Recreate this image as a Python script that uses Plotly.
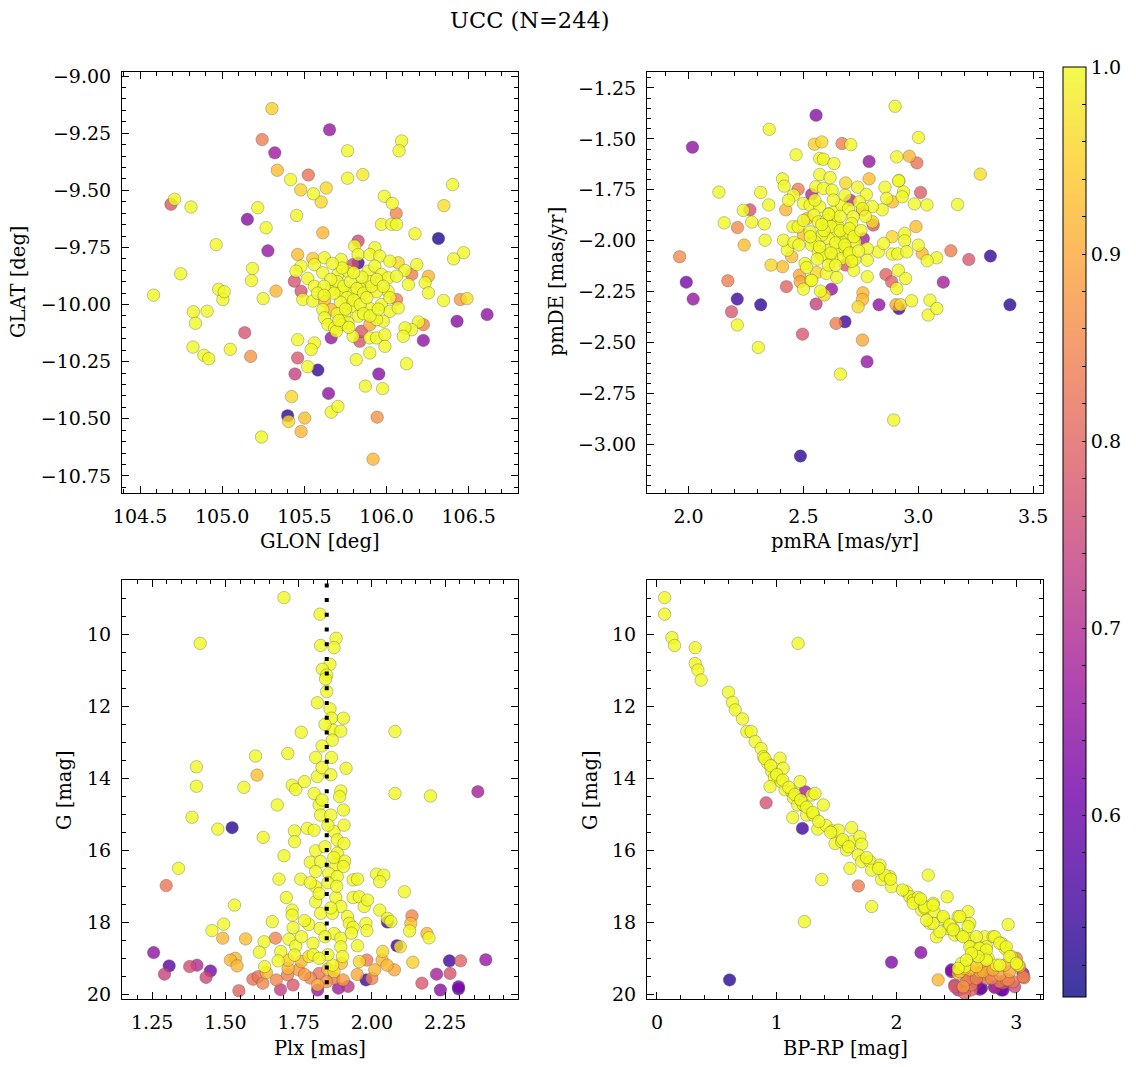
import plotly.graph_objects as go
import plotly.colors as pc

TITLE = "UCC (N=244)"
PROB_MIN, PROB_MAX = 0.503, 1.0
PLX_LINE = 1.846

# (GLON, GLAT, probability)
SKY = [
    (105.302, -9.142, 0.95), (105.653, -9.235, 0.66), (105.243, -9.278, 0.84), (105.320, -9.336, 0.67),
    (106.092, -9.284, 1.0), (106.076, -9.327, 1.0), (105.763, -9.327, 1.0), (105.335, -9.412, 0.93),
    (105.524, -9.433, 0.82), (105.416, -9.453, 1.0), (105.763, -9.447, 1.0), (105.855, -9.431, 0.98),
    (105.478, -9.498, 0.95), (105.555, -9.515, 1.0), (105.633, -9.490, 0.96), (105.602, -9.551, 0.96),
    (106.402, -9.475, 1.0), (104.688, -9.561, 0.78), (104.710, -9.539, 1.0), (104.810, -9.573, 1.0),
    (105.216, -9.576, 1.0), (105.153, -9.627, 0.64), (105.453, -9.610, 1.0), (105.267, -9.664, 1.0),
    (105.986, -9.526, 1.0), (106.035, -9.557, 1.0), (106.059, -9.601, 0.85), (106.349, -9.567, 0.97),
    (104.963, -9.738, 1.0), (105.278, -9.765, 0.66), (106.469, -9.773, 1.0), (104.747, -9.865, 1.0),
    (104.582, -9.959, 1.0), (105.184, -9.842, 1.0), (105.178, -9.895, 1.0), (104.978, -9.933, 1.0),
    (105.004, -9.978, 1.0), (105.012, -9.944, 1.0), (105.249, -9.974, 1.0), (105.327, -9.941, 0.92),
    (104.824, -10.032, 1.0), (104.908, -10.029, 1.0), (104.837, -10.082, 1.0), (105.137, -10.123, 0.77),
    (104.822, -10.186, 1.0), (104.888, -10.222, 1.0), (104.918, -10.237, 1.0), (105.049, -10.196, 1.0),
    (105.173, -10.227, 0.87), (105.443, -10.304, 0.74), (105.520, -10.272, 1.0), (105.582, -10.287, 0.54),
    (105.953, -10.304, 0.64), (106.122, -10.259, 1.0), (106.612, -10.044, 0.65), (106.490, -9.974, 0.97),
    (105.647, -10.389, 0.65), (105.871, -10.357, 1.0), (105.976, -10.368, 1.0), (105.422, -10.403, 0.96),
    (105.398, -10.487, 0.53), (105.404, -10.512, 0.96), (105.502, -10.497, 0.93), (105.480, -10.556, 0.92),
    (105.663, -10.471, 1.0), (105.704, -10.446, 1.0), (105.943, -10.493, 0.87), (105.239, -10.580, 1.0),
    (105.918, -10.677, 0.92),
    (105.612, -9.686, 0.92), (105.827, -9.722, 0.76), (105.806, -9.744, 1.0), (105.929, -9.751, 1.0),
    (105.969, -9.649, 1.0), (106.031, -9.649, 1.0), (106.061, -9.649, 1.0), (106.173, -9.690, 1.0),
    (106.316, -9.711, 0.52), (106.408, -9.800, 1.0), (105.459, -9.781, 0.93), (105.551, -9.798, 0.94),
    (105.622, -9.795, 1.0), (105.724, -9.803, 1.0), (105.827, -9.781, 1.0), (105.898, -9.781, 1.0),
    (105.959, -9.788, 1.0), (106.020, -9.810, 1.0), (106.071, -9.817, 0.96), (106.184, -9.825, 1.0),
    (106.255, -9.876, 0.92), (106.153, -9.868, 0.84), (106.112, -9.851, 1.0), (105.480, -9.832, 1.0),
    (105.449, -9.854, 1.0), (105.439, -9.898, 0.77), (105.520, -9.886, 1.0), (105.561, -9.825, 1.0),
    (105.612, -9.861, 1.0), (105.704, -9.868, 1.0), (105.765, -9.854, 1.0), (105.796, -9.825, 0.76),
    (105.827, -9.818, 0.55), (105.888, -9.854, 1.0), (105.929, -9.832, 1.0), (105.969, -9.868, 1.0),
    (106.010, -9.883, 1.0), (106.061, -9.876, 1.0), (106.133, -9.912, 1.0), (106.235, -9.905, 1.0),
    (106.255, -9.949, 1.0), (106.347, -9.982, 1.0), (106.449, -9.978, 0.88), (106.429, -10.073, 0.64),
    (106.224, -10.088, 0.85), (106.194, -10.076, 1.0), (106.153, -10.110, 1.0), (106.112, -10.102, 1.0),
    (106.102, -10.139, 1.0), (106.224, -10.157, 0.65), (106.061, -9.978, 0.84), (106.010, -9.942, 1.0),
    (105.561, -9.920, 1.0), (105.480, -9.942, 0.77), (105.490, -9.978, 1.0), (105.551, -9.985, 1.0),
    (105.622, -9.985, 0.92), (105.663, -10.022, 0.92), (105.612, -10.022, 1.0), (105.622, -10.058, 1.0),
    (105.643, -10.088, 1.0), (105.684, -10.102, 1.0), (105.663, -9.937, 1.0), (105.724, -9.944, 1.0),
    (105.796, -9.944, 1.0), (105.847, -9.922, 1.0), (105.898, -9.900, 1.0), (105.939, -9.944, 1.0),
    (105.898, -10.017, 1.0), (105.969, -10.000, 1.0), (106.020, -10.030, 1.0), (106.071, -10.015, 1.0),
    (105.980, -10.073, 1.0), (105.939, -10.066, 1.0), (105.898, -10.088, 0.90), (105.847, -10.117, 0.78),
    (105.837, -10.161, 0.77), (105.796, -10.139, 1.0), (105.745, -10.044, 1.0), (105.796, -10.008, 1.0),
    (105.827, -10.051, 1.0), (105.765, -10.080, 1.0), (105.724, -10.088, 1.0), (105.694, -10.117, 1.0),
    (105.459, -10.154, 1.0), (105.561, -10.168, 1.0), (105.541, -10.197, 1.0), (105.663, -10.146, 0.66),
    (105.898, -10.146, 1.0), (105.939, -10.146, 1.0), (105.990, -10.132, 1.0), (105.990, -10.183, 1.0),
    (105.816, -10.241, 1.0), (105.898, -10.212, 1.0), (105.459, -10.234, 0.78),
    (105.700, -9.900, 1.0), (105.740, -9.920, 1.0), (105.780, -9.900, 1.0), (105.820, -9.930, 1.0),
    (105.860, -9.950, 1.0), (105.760, -9.970, 1.0), (105.720, -9.990, 1.0), (105.800, -9.980, 1.0),
    (105.840, -10.000, 1.0), (105.880, -9.970, 1.0), (105.680, -9.950, 1.0), (105.660, -9.890, 1.0),
    (105.700, -10.040, 1.0), (105.750, -10.020, 1.0), (105.860, -10.040, 1.0), (105.910, -9.920, 1.0),
    (105.940, -9.890, 1.0), (105.620, -9.920, 1.0), (105.580, -9.950, 1.0), (105.850, -9.880, 1.0),
    (105.800, -9.860, 1.0), (105.730, -9.840, 1.0), (105.670, -9.820, 1.0), (105.900, -10.050, 1.0),
    (105.770, -10.100, 1.0), (105.710, -10.070, 1.0), (105.620, -9.960, 1.0), (105.980, -9.920, 1.0),
    (106.020, -9.970, 1.0), (105.950, -10.020, 1.0),
]

# (pmRA, pmDE, probability)
PM = [
    (2.555, -1.384, 0.64), (2.899, -1.340, 1.0), (2.017, -1.541, 0.65), (2.351, -1.453, 1.0),
    (2.548, -1.526, 0.95), (2.580, -1.515, 0.96), (2.668, -1.523, 0.84), (2.706, -1.528, 1.0),
    (2.468, -1.578, 1.0), (2.786, -1.611, 0.66), (2.906, -1.588, 1.0), (2.961, -1.585, 0.92),
    (2.994, -1.618, 0.82), (3.001, -1.493, 1.0), (3.270, -1.673, 0.97), (2.571, -1.596, 1.0),
    (2.587, -1.600, 1.0), (2.633, -1.621, 1.0), (2.571, -1.675, 1.0), (2.616, -1.690, 1.0),
    (2.786, -1.696, 0.93), (2.916, -1.704, 1.0), (2.132, -1.761, 1.0), (2.314, -1.763, 1.0),
    (2.409, -1.696, 1.0), (2.416, -1.732, 1.0), (2.477, -1.747, 0.84), (2.349, -1.824, 1.0),
    (2.238, -1.851, 1.0), (2.267, -1.848, 0.77), (2.155, -1.912, 1.0), (2.213, -1.935, 0.86),
    (2.275, -1.908, 1.0), (2.330, -1.917, 1.0), (2.333, -1.997, 1.0), (2.242, -2.021, 0.93),
    (1.961, -2.078, 0.86), (1.990, -2.203, 0.62), (2.020, -2.286, 0.66), (2.171, -2.196, 0.84),
    (2.212, -2.286, 0.55), (2.187, -2.348, 0.78), (2.212, -2.413, 1.0), (2.314, -2.314, 0.54),
    (2.304, -2.523, 1.0), (2.359, -2.119, 0.96), (2.409, -2.127, 0.93), (2.426, -2.225, 0.80),
    (2.496, -2.458, 0.78), (2.487, -3.056, 0.53), (2.555, -2.310, 0.74), (2.622, -2.237, 0.66),
    (2.642, -2.405, 0.84), (2.681, -2.397, 0.55), (2.591, -2.266, 0.96), (2.574, -2.247, 1.0),
    (2.661, -2.654, 1.0), (2.757, -2.487, 0.90), (2.777, -2.593, 0.66), (2.738, -2.324, 0.96),
    (2.759, -2.255, 0.92), (2.757, -2.288, 0.92), (2.829, -2.314, 0.65), (2.916, -2.332, 0.55),
    (2.903, -2.314, 0.90), (2.923, -2.314, 0.96), (2.971, -2.294, 1.0), (2.893, -2.879, 1.0),
    (2.859, -2.165, 0.80), (2.884, -2.201, 0.80), (2.906, -2.234, 1.0), (2.913, -2.144, 1.0),
    (2.945, -2.185, 1.0), (3.051, -2.291, 1.0), (3.043, -2.364, 1.0), (3.081, -2.332, 1.0),
    (3.109, -2.203, 0.68), (3.142, -2.049, 0.84), (3.220, -2.092, 0.78), (3.314, -2.075, 0.54),
    (3.399, -2.314, 0.53), (3.080, -2.083, 1.0), (3.039, -2.098, 1.0), (3.017, -2.062, 0.92),
    (3.000, -2.021, 1.0), (3.010, -1.763, 0.79), (3.038, -1.824, 1.0), (3.171, -1.822, 1.0),
    (2.983, -1.819, 1.0), (2.990, -1.930, 0.93), (2.936, -1.760, 1.0), (2.930, -1.784, 1.0),
    (2.914, -1.706, 1.0), (2.855, -1.737, 1.0), (2.862, -1.792, 1.0), (2.888, -1.809, 0.93),
    (2.843, -1.848, 1.0), (2.800, -1.832, 1.0), (2.757, -1.850, 0.80), (2.801, -1.907, 0.96),
    (2.804, -1.923, 0.78), (2.684, -1.716, 0.96), (2.736, -1.737, 1.0), (2.774, -1.773, 1.0),
    (2.941, -1.964, 1.0), (2.941, -2.000, 1.0), (2.886, -1.980, 0.96), (2.887, -2.065, 1.0),
    (2.910, -2.064, 1.0), (2.950, -2.054, 1.0), (2.826, -2.054, 1.0), (2.849, -2.013, 1.0),
    (2.778, -2.038, 1.0), (2.778, -2.095, 1.0), (2.778, -2.176, 1.0), (2.723, -2.092, 1.0),
    (2.719, -2.145, 1.0), (2.683, -2.119, 0.78), (2.600, -2.160, 1.0), (2.645, -2.180, 1.0),
    (2.532, -2.196, 1.0), (2.483, -2.168, 0.90), (2.486, -2.201, 0.90), (2.500, -2.237, 1.0),
    (2.536, -2.194, 1.0), (2.557, -2.155, 0.96), (2.507, -2.111, 1.0), (2.514, -2.131, 1.0),
    (2.449, -2.078, 0.93), (2.430, -2.046, 1.0), (2.413, -1.997, 1.0), (2.459, -2.008, 1.0),
    (2.454, -1.931, 1.0), (2.477, -1.931, 1.0), (2.423, -1.848, 0.92), (2.457, -1.776, 1.0),
    (2.435, -1.801, 1.0), (2.500, -1.817, 1.0), (2.536, -1.773, 0.70), (2.554, -1.735, 1.0),
    (2.587, -1.743, 1.0), (2.625, -1.752, 1.0), (2.529, -1.825, 1.0), (2.571, -1.833, 1.0),
    (2.546, -1.874, 1.0), (2.517, -1.890, 0.93), (2.565, -1.907, 1.0), (2.613, -1.866, 1.0),
    (2.633, -1.858, 1.0), (2.667, -1.825, 1.0), (2.681, -1.776, 1.0), (2.704, -1.801, 0.70),
    (2.696, -1.842, 1.0), (2.717, -1.882, 1.0), (2.743, -1.809, 1.0), (2.757, -1.842, 1.0),
    (2.639, -1.907, 1.0), (2.652, -1.931, 1.0), (2.681, -1.956, 1.0), (2.710, -1.915, 1.0),
    (2.725, -2.005, 1.0), (2.761, -1.989, 0.68), (2.696, -1.980, 1.0), (2.667, -2.005, 1.0),
    (2.638, -1.972, 1.0), (2.609, -1.989, 1.0), (2.580, -1.972, 1.0), (2.551, -2.005, 1.0),
    (2.536, -2.021, 1.0), (2.565, -2.054, 1.0), (2.609, -2.046, 1.0), (2.645, -2.046, 1.0),
    (2.681, -2.038, 1.0), (2.696, -2.070, 1.0), (2.667, -2.087, 1.0), (2.623, -2.087, 1.0),
    (2.580, -2.070, 1.0), (2.609, -2.119, 1.0), (2.529, -1.956, 1.0), (2.500, -1.972, 0.93),
    (2.600, -1.900, 1.0),
    (2.620, -1.930, 1.0), (2.660, -1.950, 1.0), (2.700, -1.940, 1.0), (2.640, -2.010, 1.0),
    (2.680, -2.020, 1.0), (2.720, -1.980, 1.0), (2.590, -1.950, 1.0), (2.570, -2.030, 1.0),
    (2.620, -2.060, 1.0), (2.700, -2.060, 1.0), (2.740, -2.050, 1.0), (2.660, -1.880, 1.0),
    (2.610, -1.870, 1.0), (2.580, -1.920, 1.0), (2.530, -1.980, 1.0), (2.560, -2.090, 1.0),
    (2.640, -2.120, 1.0), (2.710, -2.100, 1.0), (2.750, -1.950, 1.0), (2.480, -2.020, 1.0),
    (2.500, -1.900, 1.0), (2.770, -1.880, 1.0), (2.630, -1.800, 1.0), (2.550, -1.800, 1.0),
]

# (Plx, G, probability)
PLX_G = [
    (1.700, 8.98, 1.0), (1.823, 9.44, 1.0), (1.414, 10.25, 1.0), (1.878, 10.11, 1.0),
    (1.871, 10.37, 1.0), (1.825, 10.31, 1.0), (1.857, 10.83, 1.0), (1.831, 10.97, 1.0),
    (1.846, 11.13, 1.0), (1.842, 11.24, 1.0), (1.846, 11.59, 1.0), (1.814, 11.90, 1.0),
    (1.857, 12.07, 1.0), (1.862, 12.33, 1.0), (1.903, 12.33, 1.0), (1.867, 12.66, 1.0),
    (1.894, 12.69, 1.0), (1.759, 12.72, 1.0), (2.079, 12.70, 1.0), (1.865, 12.94, 1.0),
    (1.830, 13.10, 1.0), (1.713, 13.31, 1.0), (1.603, 13.38, 1.0), (1.808, 13.42, 1.0),
    (1.862, 13.42, 1.0), (1.912, 13.72, 1.0), (1.401, 13.68, 1.0), (1.814, 13.95, 1.0),
    (1.608, 13.91, 0.93), (1.401, 14.22, 1.0), (1.563, 14.25, 1.0), (1.728, 14.19, 1.0),
    (1.740, 14.31, 1.0), (1.770, 14.09, 1.0), (1.803, 14.42, 1.0), (1.894, 14.35, 1.0),
    (1.890, 14.51, 1.0), (2.079, 14.42, 1.0), (2.200, 14.49, 1.0), (2.362, 14.37, 0.68),
    (1.677, 14.74, 1.0), (1.820, 14.74, 1.0), (1.825, 15.02, 1.0), (1.860, 15.02, 1.0),
    (1.903, 14.88, 1.0), (1.386, 15.08, 1.0), (1.474, 15.41, 1.0), (1.523, 15.37, 0.53),
    (1.629, 15.64, 1.0), (1.736, 15.46, 1.0), (1.736, 15.76, 1.0), (1.780, 15.39, 1.0),
    (1.803, 15.44, 1.0), (1.871, 15.48, 1.0), (1.905, 15.30, 1.0), (1.882, 15.71, 1.0),
    (1.905, 15.81, 1.0), (1.808, 16.01, 1.0), (1.882, 16.08, 1.0), (1.700, 16.15, 1.0),
    (1.790, 16.33, 1.0), (1.825, 16.31, 1.0), (1.877, 16.41, 1.0), (1.907, 16.30, 1.0),
    (1.903, 16.45, 1.0), (1.340, 16.50, 1.0), (1.808, 16.59, 1.0), (1.853, 16.64, 1.0),
    (1.882, 16.73, 1.0), (1.683, 16.80, 1.0), (1.757, 16.80, 1.0), (1.808, 17.01, 1.0),
    (1.936, 16.82, 1.0), (1.951, 16.80, 1.0), (2.016, 16.66, 1.0), (2.041, 16.69, 1.0),
    (2.027, 16.87, 1.0), (2.111, 17.15, 1.0), (1.298, 16.98, 0.83), (1.708, 17.31, 1.0),
    (1.877, 17.31, 1.0), (1.894, 17.56, 1.0), (1.936, 17.31, 1.0), (1.957, 17.29, 1.0),
    (1.974, 17.56, 1.0), (1.985, 17.38, 1.0), (2.027, 17.66, 1.0), (1.808, 17.43, 1.0),
    (1.531, 17.52, 1.0), (1.728, 17.66, 1.0), (1.728, 17.80, 1.0), (1.825, 17.75, 1.0),
    (1.865, 17.75, 1.0), (1.917, 17.84, 1.0), (1.923, 18.03, 1.0), (1.936, 18.14, 1.0),
    (1.980, 18.03, 1.0), (1.983, 18.23, 1.0), (2.053, 17.89, 1.0), (2.065, 17.98, 1.0),
    (2.053, 17.99, 0.55), (2.137, 17.82, 0.85), (2.133, 18.03, 0.93), (2.129, 18.24, 1.0),
    (2.188, 18.31, 0.92), (2.195, 18.43, 1.0), (1.454, 18.23, 1.0), (1.494, 18.05, 1.0),
    (1.491, 18.44, 0.92), (1.660, 17.98, 1.0), (1.731, 18.15, 1.0), (1.785, 18.06, 1.0),
    (1.823, 18.17, 1.0), (1.871, 18.31, 1.0), (1.894, 18.44, 1.0), (1.799, 18.58, 1.0),
    (1.894, 18.68, 1.0), (1.951, 18.65, 1.0), (1.717, 18.47, 1.0), (1.740, 18.66, 1.0),
    (1.671, 18.44, 0.85), (1.632, 18.54, 1.0), (1.569, 18.46, 0.93), (1.616, 18.83, 1.0),
    (1.689, 18.81, 1.0), (1.714, 19.05, 0.95), (1.736, 18.91, 1.0), (1.759, 19.09, 0.92),
    (1.785, 18.95, 0.97), (1.714, 19.28, 0.92), (1.680, 19.07, 1.0), (1.634, 19.23, 1.0),
    (1.534, 19.00, 0.92), (1.517, 19.05, 0.92), (1.540, 19.21, 0.92), (1.255, 18.84, 0.65),
    (1.308, 19.21, 0.58), (1.292, 19.44, 0.74), (1.378, 19.23, 0.76), (1.403, 19.19, 0.70),
    (1.449, 19.35, 0.62), (1.434, 19.53, 0.75), (1.546, 19.90, 0.80), (1.594, 19.58, 0.82),
    (1.612, 19.51, 0.82), (1.628, 19.69, 0.85), (1.674, 19.60, 0.85), (1.688, 19.87, 0.73),
    (1.731, 19.74, 0.78), (1.712, 19.46, 0.84), (1.750, 19.32, 0.88), (1.820, 19.42, 0.82),
    (1.815, 19.74, 0.90), (1.815, 19.88, 0.66), (1.845, 19.65, 0.87), (1.866, 19.19, 1.0),
    (1.871, 19.37, 0.96), (1.896, 19.14, 0.93), (1.886, 19.83, 0.67), (1.919, 19.78, 0.72),
    (1.902, 19.60, 0.88), (1.871, 19.56, 0.84), (1.983, 19.05, 0.84), (1.957, 19.09, 0.96),
    (1.980, 19.60, 0.55), (2.000, 19.56, 0.85), (2.010, 19.32, 0.92), (2.035, 19.05, 0.92),
    (2.037, 18.81, 0.96), (2.052, 19.19, 0.92), (2.077, 19.32, 0.90), (2.086, 18.65, 0.55),
    (2.097, 18.68, 0.97), (2.140, 19.11, 0.95), (2.171, 19.69, 0.78), (2.221, 19.44, 0.68),
    (2.234, 19.88, 0.64), (2.265, 19.07, 0.55), (2.267, 19.42, 0.77), (2.303, 19.07, 0.80),
    (2.296, 19.79, 0.62), (2.296, 19.85, 0.60), (2.389, 19.04, 0.66),
    (1.840, 12.50, 1.0), (1.830, 13.70, 1.0), (1.860, 13.90, 1.0), (1.830, 14.60, 1.0),
    (1.850, 15.30, 1.0), (1.840, 15.90, 1.0), (1.870, 16.20, 1.0), (1.850, 16.90, 1.0),
    (1.820, 17.20, 1.0), (1.860, 17.60, 1.0), (1.840, 18.40, 1.0), (1.800, 18.90, 1.0),
    (1.850, 18.90, 1.0), (1.880, 17.00, 1.0), (1.790, 16.90, 1.0), (1.770, 17.95, 1.0),
    (1.930, 18.30, 1.0), (1.760, 18.40, 1.0), (1.820, 19.00, 1.0), (1.900, 18.95, 1.0),
    (1.640, 19.40, 0.92), (1.790, 19.55, 0.85), (1.950, 19.45, 0.90), (1.770, 19.45, 0.88),
    (1.850, 19.30, 0.93),
]

# (BP-RP, G, probability)
CMD = [
    (0.064, 8.98, 1.0), (0.064, 9.44, 1.0), (0.125, 10.09, 1.0), (0.147, 10.31, 1.0),
    (0.319, 10.37, 1.0), (0.319, 10.81, 1.0), (0.342, 10.99, 1.0), (0.369, 11.27, 1.0),
    (1.178, 10.25, 1.0), (0.597, 11.61, 1.0), (0.631, 11.89, 1.0), (0.653, 12.10, 1.0),
    (0.714, 12.35, 1.0), (0.750, 12.70, 1.0), (0.786, 12.70, 1.0), (0.819, 12.98, 1.0),
    (0.869, 13.17, 1.0), (0.889, 13.40, 1.0), (0.925, 13.58, 1.0), (0.958, 13.81, 1.0),
    (0.981, 13.98, 1.0), (0.944, 14.23, 1.0), (1.028, 13.44, 1.0), (1.053, 13.72, 1.0),
    (1.036, 14.09, 1.0), (1.069, 14.32, 1.0), (1.125, 14.37, 1.0), (1.194, 14.09, 1.0),
    (1.236, 14.37, 0.68), (1.139, 14.54, 1.0), (1.175, 14.74, 1.0), (1.222, 14.74, 1.0),
    (1.292, 14.46, 1.0), (1.319, 14.42, 1.0), (1.389, 14.74, 1.0), (1.250, 15.02, 1.0),
    (1.306, 15.02, 1.0), (1.133, 15.09, 1.0), (0.911, 14.68, 0.77), (1.214, 15.39, 0.55),
    (1.342, 15.41, 1.0), (1.411, 15.31, 1.0), (1.467, 15.46, 1.0), (1.514, 15.44, 1.0),
    (1.486, 15.81, 1.0), (1.542, 15.76, 1.0), (1.583, 15.99, 1.0), (1.625, 15.37, 1.0),
    (1.625, 15.76, 1.0), (1.694, 15.62, 1.0), (1.708, 15.83, 1.0), (1.611, 16.50, 1.0),
    (1.681, 16.13, 1.0), (1.708, 16.31, 1.0), (1.778, 16.31, 1.0), (1.792, 16.55, 1.0),
    (1.861, 16.41, 1.0), (1.875, 16.81, 1.0), (1.944, 16.73, 1.0), (1.958, 17.01, 1.0),
    (1.903, 16.69, 1.0), (1.375, 16.81, 1.0), (1.681, 16.99, 0.84), (1.792, 17.56, 1.0),
    (1.231, 17.98, 1.0), (2.264, 16.69, 1.0), (2.083, 17.15, 1.0), (2.111, 17.29, 1.0),
    (2.139, 17.38, 1.0), (2.181, 17.31, 1.0), (2.208, 17.66, 1.0), (2.236, 17.61, 1.0),
    (2.306, 17.47, 1.0), (2.314, 17.70, 1.0), (2.278, 18.03, 1.0), (2.333, 18.40, 1.0),
    (2.389, 17.89, 1.0), (2.422, 17.29, 1.0), (2.431, 18.17, 1.0), (2.472, 18.17, 1.0),
    (2.514, 17.84, 1.0), (2.486, 18.35, 1.0), (2.542, 18.35, 1.0), (2.597, 17.70, 1.0),
    (2.611, 18.03, 1.0), (2.597, 18.44, 1.0), (2.625, 18.68, 1.0), (2.653, 18.91, 1.0),
    (2.681, 18.72, 1.0), (2.736, 18.40, 1.0), (2.750, 18.68, 1.0), (2.806, 18.40, 1.0),
    (2.875, 18.58, 1.0), (2.931, 18.06, 1.0), (2.903, 18.72, 1.0), (2.958, 18.95, 1.0),
    (3.014, 19.19, 1.0), (2.764, 19.00, 1.0), (2.833, 19.19, 1.0), (2.569, 19.28, 0.95),
    (2.514, 19.42, 0.93), (2.542, 19.14, 1.0), (2.708, 19.09, 0.92), (2.694, 19.37, 0.90),
    (2.778, 19.28, 0.90), (2.903, 19.19, 0.92), (3.000, 19.00, 0.85), (3.056, 19.42, 0.66),
    (3.064, 19.54, 0.84), (2.931, 19.60, 0.85), (2.889, 19.69, 0.78), (2.819, 19.79, 0.63),
    (2.875, 19.88, 0.57), (2.708, 19.83, 0.56), (2.639, 19.60, 0.78), (2.625, 19.88, 0.80),
    (2.556, 19.79, 0.88), (2.514, 19.88, 0.72), (2.486, 19.74, 0.74), (2.458, 19.37, 0.64),
    (2.347, 19.60, 0.92), (2.792, 19.56, 0.85), (2.736, 19.46, 0.83), (2.681, 19.42, 0.85),
    (2.597, 19.56, 0.80), (2.203, 18.84, 0.64), (1.958, 19.11, 0.63), (0.606, 19.60, 0.53),
    (2.569, 19.97, 0.80), (2.667, 19.69, 0.67), (2.986, 19.79, 0.75),
    (2.139, 17.47, 1.0), (2.236, 17.57, 1.0), (2.305, 17.52, 1.0), (2.389, 17.84, 1.0),
    (2.444, 18.07, 1.0), (2.528, 17.84, 1.0), (2.597, 18.12, 1.0), (2.472, 18.21, 1.0),
    (2.361, 18.26, 1.0), (2.305, 18.03, 1.0), (2.250, 17.94, 1.0), (2.555, 18.40, 1.0),
    (2.666, 18.40, 1.0), (2.819, 18.40, 1.0), (2.611, 18.68, 1.0), (2.694, 18.72, 1.0),
    (2.750, 18.77, 1.0), (2.861, 18.58, 1.0), (2.916, 18.68, 1.0), (2.944, 18.95, 1.0),
    (3.000, 19.14, 1.0), (2.861, 19.19, 1.0), (2.750, 19.05, 1.0), (2.680, 18.95, 1.0),
    (2.625, 18.86, 1.0), (2.569, 19.23, 1.0), (2.514, 19.28, 1.0), (2.583, 19.05, 1.0),
    (2.528, 19.37, 0.93), (2.611, 19.32, 0.92), (2.666, 19.23, 0.95), (2.722, 19.37, 0.90),
    (2.805, 19.32, 0.90), (2.861, 19.46, 0.88), (2.944, 19.37, 0.90), (3.027, 19.23, 0.90),
    (3.055, 19.51, 0.84), (2.583, 19.60, 0.84), (2.666, 19.56, 0.85), (2.750, 19.56, 0.84),
    (2.861, 19.65, 0.83), (2.916, 19.60, 0.84), (2.972, 19.65, 0.83), (2.458, 19.32, 0.62),
    (2.486, 19.79, 0.78), (2.555, 19.84, 0.70), (2.625, 19.74, 0.82), (2.694, 19.86, 0.62),
    (2.819, 19.81, 0.70), (2.889, 19.88, 0.62),
    (0.900, 13.45, 1.0), (0.950, 13.65, 1.0), (1.000, 13.90, 1.0), (1.050, 14.05, 1.0),
    (1.100, 14.25, 1.0), (1.150, 14.45, 1.0), (1.200, 14.60, 1.0), (1.250, 14.80, 1.0),
    (1.300, 14.95, 1.0), (1.350, 15.20, 1.0), (1.450, 15.50, 1.0), (1.550, 15.70, 1.0),
    (1.600, 15.90, 1.0), (1.750, 16.20, 1.0), (1.850, 16.50, 1.0), (1.950, 16.80, 1.0),
    (2.050, 17.10, 1.0), (2.200, 17.35, 1.0),
]

FONT = "DejaVu Serif"
TICK_SIZE = 19
LABEL_SIZE = 19.5
W, H = 1136, 1067

# plasma colorscale with the same transparency used for the markers
ALPHA = 0.8
plasma = pc.sequential.Plasma
cscale = []
for i, c in enumerate(plasma):
    r, g, b = pc.hex_to_rgb(c)
    cscale.append([i / (len(plasma) - 1), f"rgba({r},{g},{b},{ALPHA})"])


def unzip(rows):
    rows = sorted(rows, key=lambda r: r[2])
    return [r[0] for r in rows], [r[1] for r in rows], [r[2] for r in rows]


def px_x(p):
    return p / W


def px_y(p):
    return 1 - p / H


fig = go.Figure()

panels = [
    (SKY, "x", "y"),
    (PM, "x2", "y2"),
    (PLX_G, "x3", "y3"),
    (CMD, "x4", "y4"),
]
for k, (rows, xa, ya) in enumerate(panels):
    xs, ys, ps = unzip(rows)
    marker = dict(
        size=12.5, color=ps, colorscale=cscale, cmin=PROB_MIN, cmax=PROB_MAX,
        line=dict(width=0.6, color="rgba(70,70,70,0.55)"),
    )
    if k == 0:
        cb_ticks = [round(0.52 + 0.02 * i, 2) for i in range(25)]
        marker["colorbar"] = dict(
            x=px_x(1063), xanchor="left", y=px_y(532), yanchor="middle",
            len=930 / H, lenmode="fraction", thickness=23, thicknessmode="pixels",
            xpad=0, ypad=0,
            outlinewidth=1, outlinecolor="black",
            tickvals=cb_ticks,
            ticktext=[f"{v:.1f}" if abs(v * 10 - round(v * 10)) < 1e-6 else "" for v in cb_ticks],
            ticks="inside", ticklen=4, tickwidth=1, tickcolor="black",
            tickfont=dict(family=FONT, size=TICK_SIZE, color="black"),
        )
        marker["showscale"] = True
    else:
        marker["showscale"] = False
    fig.add_trace(go.Scatter(x=xs, y=ys, mode="markers", marker=marker,
                             xaxis=xa, yaxis=ya, showlegend=False, hoverinfo="skip"))

# dotted vertical line in the Plx panel
fig.add_shape(type="line", xref="x3", yref="y3 domain", x0=PLX_LINE, x1=PLX_LINE, y0=0, y1=1,
              line=dict(color="black", width=4, dash="4px,10.7px"))

common = dict(
    showline=True, linecolor="black", linewidth=1, mirror="allticks",
    ticks="inside", ticklen=7, tickwidth=1, tickcolor="black",
    showgrid=False, zeroline=False,
    tickfont=dict(family=FONT, size=TICK_SIZE, color="black"),
    automargin=False,
)

dom_x1 = [px_x(122), px_x(518)]
dom_x2 = [px_x(647), px_x(1043)]
dom_yt = [px_y(493), px_y(72)]
dom_yb = [px_y(999), px_y(580)]


def minor(d):
    return dict(ticks="inside", ticklen=4, tickcolor="black", dtick=d)


fig.update_layout(
    width=W, height=H, margin=dict(l=0, r=0, t=0, b=0),
    paper_bgcolor="white", plot_bgcolor="white",
    font=dict(family=FONT, size=TICK_SIZE, color="black"),
    xaxis=dict(domain=dom_x1, anchor="y", range=[104.39, 106.80], dtick=0.5, tick0=104.5,
               tickformat=".1f", ticklabelstandoff=6, minor=minor(0.1), **common),
    yaxis=dict(domain=dom_yt, anchor="x", range=[-10.825, -8.982], dtick=0.25, tick0=-9.0,
               tickformat=".2f", ticklabelstandoff=6, minor=minor(0.05), **common),
    xaxis2=dict(domain=dom_x2, anchor="y2", range=[1.819, 3.543], dtick=0.5, tick0=2.0,
                tickformat=".1f", ticklabelstandoff=6, minor=minor(0.1), **common),
    yaxis2=dict(domain=dom_yt, anchor="x2", range=[-3.237, -1.172], dtick=0.25, tick0=-3.0,
                tickformat=".2f", ticklabelstandoff=6, minor=minor(0.05), **common),
    xaxis3=dict(domain=dom_x1, anchor="y3", range=[1.147, 2.499], dtick=0.25, tick0=1.25,
                tickformat=".2f", ticklabelstandoff=6, minor=minor(0.05), **common),
    yaxis3=dict(domain=dom_yb, anchor="x3", range=[20.13, 8.49], dtick=2, tick0=10,
                tickformat="d", ticklabelstandoff=6, minor=minor(0.5), **common),
    xaxis4=dict(domain=dom_x2, anchor="y4", range=[-0.083, 3.222], dtick=1, tick0=0,
                tickformat="d", ticklabelstandoff=6, minor=minor(0.2), **common),
    yaxis4=dict(domain=dom_yb, anchor="x4", range=[20.13, 8.49], dtick=2, tick0=10,
                tickformat="d", ticklabelstandoff=6, minor=minor(0.5), **common),
)

ann_font = dict(family=FONT, size=LABEL_SIZE, color="black")
labels = [
    ("GLON [deg]", 320, 541, 0), ("GLAT [deg]", 18, 282, -90),
    ("pmRA [mas/yr]", 845, 541, 0), ("pmDE [mas/yr]", 556, 282, -90),
    ("Plx [mas]", 320, 1048, 0), ("G [mag]", 64, 790, -90),
    ("BP-RP [mag]", 845, 1048, 0), ("G [mag]", 590, 790, -90),
]
for text, x, y, ang in labels:
    fig.add_annotation(text=text, x=px_x(x), y=px_y(y), xref="paper", yref="paper",
                       showarrow=False, textangle=ang, font=ann_font,
                       xanchor="center", yanchor="middle")

fig.add_annotation(text=TITLE, x=px_x(530), y=px_y(20), xref="paper", yref="paper",
                   showarrow=False, font=dict(family=FONT, size=22.5, color="black"),
                   xanchor="center", yanchor="middle")

fig.write_html("out.html")
